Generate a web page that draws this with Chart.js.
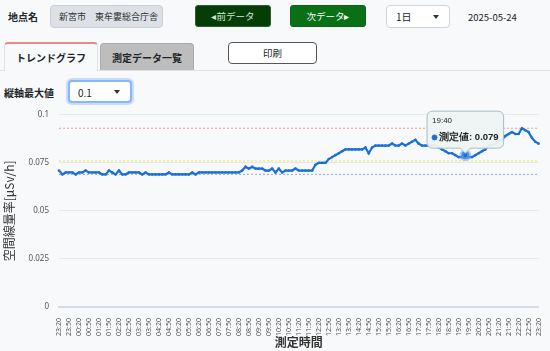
<!DOCTYPE html>
<html lang="ja">
<head>
<meta charset="utf-8">
<script src="https://cdn.jsdelivr.net/npm/chart.js@4"></script>
<style>
  html, body { margin: 0; padding: 0; }
  body {
    width: 550px; height: 351px; overflow: hidden; position: relative;
    background: #f8f9fa; font-family: "Noto Sans CJK JP", "Noto Sans", sans-serif; color: #212529;
  }
  .abs { position: absolute; box-sizing: border-box; white-space: nowrap; }
  .lbl { font-size: 10px; font-weight: bold; }
  .place { left: 50px; top: 5px; width: 113px; height: 23px; background: #dde1e6; border: 1px solid #c9ced4;
    border-radius: 4px; font-size: 9px; line-height: 21px; padding-left: 8px; color: #333; }
  .btn { top: 5px; height: 22px; border-radius: 3px; color: #fff; font-size: 9.5px; line-height: 20px; text-align: center; }
  .prev { left: 195px; width: 76px; background: #053d07; border: 1px solid #2b5e2d; color: #cfe8cf; }
  .next { left: 290px; width: 76px; background: #0a7016; border: 1px solid #0a6412; }
  .sel { height: 23px; background: #fff; border: 1px solid #ced4da; border-radius: 4px; font-size: 10px; line-height: 21px; padding-left: 9px; }
  .caret { position: absolute; right: 10px; top: 9px; width: 0; height: 0; border-left: 3px solid transparent;
    border-right: 3px solid transparent; border-top: 4px solid #333; }
  .tab { top: 42px; height: 29px; font-size: 10px; font-weight: bold; text-align: center; line-height: 28px; border-radius: 4px 4px 0 0; }
  #chartBox { left: 0; top: 100px; width: 550px; height: 251px; }
</style>
</head>
<body>
<div class="abs lbl" style="left:8px; top:9px;">地点名</div>
<div class="abs place">新宮市　東牟婁総合庁舎</div>
<div class="abs btn prev">◂前データ</div>
<div class="abs btn next">次データ▸</div>
<div class="abs sel" style="left:386px; top:5px; width:64px;">1日<span class="caret"></span></div>
<div class="abs" style="left:468px; top:10px; font-size:9.5px;">2025-05-24</div>

<div class="abs" style="left:0; top:70px; width:550px; height:1px; background:#dee2e6;"></div>
<div class="abs tab" style="left:4px; width:94px; background:#f8f9fa; border:1px solid #dee2e6; border-top:2px solid #e88a8a; border-bottom:none;">トレンドグラフ</div>
<div class="abs tab" style="left:100px; width:94px; background:#bdbdbd; border:1px solid #a9a9a9; border-bottom:none; top:43px; height:27px;">測定データ一覧</div>
<div class="abs" style="left:228px; top:42px; width:89px; height:22px; background:#fff; border:1px solid #555; border-radius:4px; font-size:9.5px; line-height:20px; text-align:center;">印刷</div>

<div class="abs lbl" style="left:4px; top:85px;">縦軸最大値</div>
<div class="abs sel" style="left:68px; top:80px; width:64px; border:2px solid #86b7fe; box-shadow:0 0 0 2px rgba(13,110,253,0.2); padding-left:8px;">0.1<span class="caret" style="top:8px;"></span></div>

<div class="abs" id="chartBox">
  <canvas id="trendChart" width="550" height="251"></canvas>
</div>

<script>
// 測定値 (10分毎, 23:20 〜 翌23:20)
const measured = [
  0.071, 0.069, 0.070, 0.070, 0.070, 0.069, 0.070, 0.070, 0.071, 0.070,
  0.070, 0.070, 0.070, 0.069, 0.069, 0.071, 0.070, 0.069, 0.071, 0.069,
  0.069, 0.070, 0.070, 0.070, 0.070, 0.069, 0.070, 0.069, 0.069, 0.069,
  0.069, 0.069, 0.069, 0.070, 0.069, 0.069, 0.069, 0.069, 0.069, 0.069,
  0.070, 0.069, 0.070, 0.070, 0.070, 0.070, 0.070, 0.070, 0.070, 0.070,
  0.070, 0.070, 0.070, 0.070, 0.070, 0.071, 0.073, 0.072, 0.073, 0.072,
  0.072, 0.072, 0.071, 0.071, 0.072, 0.070, 0.072, 0.070, 0.071, 0.071,
  0.071, 0.072, 0.071, 0.071, 0.071, 0.071, 0.071, 0.074, 0.075, 0.075,
  0.075, 0.077, 0.078, 0.079, 0.080, 0.081, 0.082, 0.082, 0.082, 0.082,
  0.082, 0.082, 0.083, 0.080, 0.083, 0.084, 0.084, 0.084, 0.084, 0.084,
  0.085, 0.084, 0.084, 0.085, 0.084, 0.085, 0.086, 0.087, 0.085, 0.084,
  0.084, 0.084, 0.084, 0.084, 0.083, 0.082, 0.081, 0.080, 0.080, 0.079,
  0.078, 0.078, 0.079, 0.078, 0.078, 0.079, 0.080, 0.081, 0.082, 0.084,
  0.084, 0.085, 0.086, 0.087, 0.089, 0.090, 0.091, 0.090, 0.090, 0.093,
  0.092, 0.091, 0.088, 0.086, 0.085
];

// 基準線
const upperLine = 0.093;
const warnLine = 0.076;
const lowerLine = 0.069;

const yTicks = [0, 0.025, 0.05, 0.075, 0.1];
const yMax = 0.1;
const tooltipIndex = 122; // 19:40

// 時刻ラベル 23:20 から10分刻み
function makeTimes(startH, startM, count) {
    const out = [];
    let t = startH * 60 + startM;
    for (let i = 0; i < count; i++) {
        const m = t % 1440;
        out.push(String(Math.floor(m / 60)).padStart(2, '0') + ':' + String(m % 60).padStart(2, '0'));
        t += 10;
    }
    return out;
}
const times = makeTimes(23, 20, measured.length);

const flat = v => times.map(() => v);

function refLine(value, color) {
    return {
        label: 'ref',
        data: flat(value),
        borderColor: color,
        borderWidth: 1,
        borderDash: [2, 2],
        pointRadius: 0,
        pointHoverRadius: 0,
        fill: false,
    };
}

const ctx = document.getElementById('trendChart').getContext('2d');
const chart = new Chart(ctx, {
    type: 'line',
    data: {
        labels: times,
        datasets: [
            {
                label: '測定値',
                data: measured,
                borderColor: '#1a6fd8',
                backgroundColor: '#1a6fd8',
                borderWidth: 2.2,
                pointRadius: 1.3,
                pointBorderWidth: 0,
                pointHoverRadius: 4,
                pointHoverBorderWidth: 4,
                pointHoverBackgroundColor: '#1a6fd8',
                pointHoverBorderColor: 'rgba(120,170,235,0.55)',
                tension: 0,
            },
            refLine(upperLine, 'rgba(240,120,120,0.75)'),
            refLine(warnLine, 'rgba(240,228,40,0.9)'),
            refLine(lowerLine, 'rgba(150,150,255,0.95)'),
        ]
    },
    options: {
        responsive: false,
        animation: false,
        layout: { padding: { top: 0, right: 6, left: 2, bottom: 0 } },
        scales: {
            y: {
                min: 0,
                max: yMax,
                afterBuildTicks: axis => { axis.ticks = yTicks.map(v => ({ value: v })); },
                afterFit: axis => { axis.width = 57; },
                grid: { color: '#e6e8ea', drawTicks: false },
                border: { display: false },
                ticks: {
                    padding: 10,
                    color: '#555',
                    font: { size: 8, family: 'Noto Sans' },
                    callback: v => String(v),
                },
                title: {
                    display: true,
                    text: '空間線量率[μSv/h]',
                    color: '#333',
                    padding: 0,
                    font: { size: 12, family: 'Noto Sans CJK JP' },
                }
            },
            x: {
                afterFit: axis => { axis.height = 44; },
                grid: { display: false },
                border: { color: '#d5dbe8', width: 2 },
                ticks: {
                    autoSkip: false,
                    maxRotation: 90,
                    minRotation: 90,
                    padding: 3,
                    color: '#555',
                    font: { size: 7, family: 'Noto Sans' },
                    callback: function(value, index) {
                        return index % 3 === 0 ? this.getLabelForValue(value) : '';
                    }
                },
                title: {
                    display: true,
                    text: '測定時間',
                    color: '#333',
                    padding: { top: 0, bottom: 1 },
                    font: { size: 12, weight: 'bold', family: 'Noto Sans CJK JP' },
                }
            }
        },
        plugins: {
            legend: { display: false },
            tooltip: {
                filter: item => item.datasetIndex === 0,
                backgroundColor: 'rgba(238,244,244,0.95)',
                borderColor: '#a9bcc4',
                borderWidth: 1,
                titleColor: '#222',
                bodyColor: '#222',
                titleFont: { size: 8, weight: 'normal' },
                bodyFont: { size: 9.5, weight: 'bold' },
                padding: 5,
                caretSize: 5,
                yAlign: 'bottom',
                boxWidth: 5,
                boxHeight: 5,
                usePointStyle: true,
                callbacks: {
                    labelColor: () => ({ borderColor: '#1a6fd8', backgroundColor: '#1a6fd8' }),
                }
            }
        }
    }
});

// 19:40 の点をアクティブにしてツールチップを表示
const meta = chart.getDatasetMeta(0);
const pt = meta.data[tooltipIndex];
chart.setActiveElements([{ datasetIndex: 0, index: tooltipIndex }]);
chart.tooltip.setActiveElements([{ datasetIndex: 0, index: tooltipIndex }], { x: pt.x, y: pt.y });
chart.update();
</script>
</body>
</html>
